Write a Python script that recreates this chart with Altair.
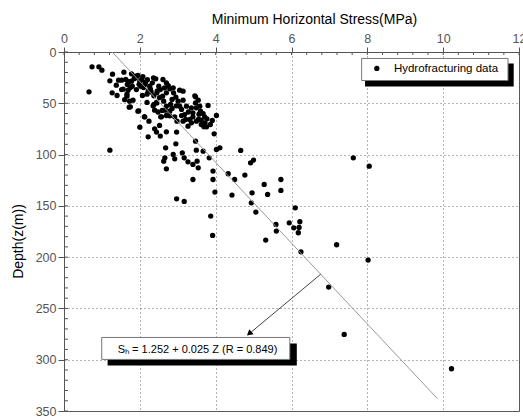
import altair as alt
import pandas as pd

# ---- data ----
stress = [0.74,0.92,1.00,0.66,1.28,1.21,1.21,1.27,1.40,1.38,1.52,1.58,1.63,1.52,1.67,1.78,1.87,1.95,2.00,1.78,
          1.80,1.69,1.66,1.73,1.82,1.72,1.91,2.02,2.13,2.07,2.22,2.26,2.36,2.33,2.42,2.50,2.45,2.54,2.61,2.70,
          2.60,2.63,2.70,2.79,2.75,2.88,2.70,2.39,2.37,2.45,2.59,2.67,2.55,2.52,2.70,2.79,2.81,2.85,2.89,3.01,
          3.05,3.10,3.18,3.21,3.05,3.14,2.92,2.98,3.14,3.27,3.32,3.40,3.36,3.49,3.47,3.58,3.47,3.60,3.67,3.49,
          3.62,3.71,3.77,3.86,4.02,3.91,3.69,3.80,3.96,3.62,3.76,3.36,3.54,3.23,
          1.44,1.56,1.71,1.75,1.66,2.10,2.19,2.28,2.37,2.46,1.75,1.97,2.12,2.35,2.19,1.85,2.05,2.15,2.44,2.96,
          3.14,3.45,2.79,2.57,3.40,3.56,
          1.90,1.98,2.08,2.20,2.30,2.52,2.65,2.85,2.95,3.10,3.28,3.55,1.60,2.48,3.72,
          2.00,2.22,1.95,2.13,2.24,2.39,2.44,2.54,2.70,2.97,2.68,2.95,2.66,2.63,2.70,2.88,2.92,3.12,3.17,3.27,
          3.40,3.54,3.51,3.47,3.49,3.67,3.83,3.93,3.93,4.02,4.11,4.66,4.92,5.00,4.33,4.50,4.77,3.40,3.98,4.43,
          4.96,5.28,5.37,2.97,3.17,3.87,3.92,4.94,5.06,5.32,7.63,8.05,5.72,5.72,6.10,5.59,5.60,5.94,6.22,6.06,
          6.20,6.18,7.19,6.25,8.02,6.98,7.39,10.22]
depth = [14.5,14.5,17.7,38.8,21.6,28.1,95.7,39.8,42.4,32.3,27.5,19.7,26.8,36.6,31.7,21.3,23.6,22.9,28.4,28.4,
         33.3,37.2,43.1,47.9,47.0,53.8,36.6,33.3,31.7,42.4,38.2,33.3,25.2,30.1,26.2,33.3,39.8,36.6,26.8,30.1,
         43.1,47.9,39.8,35.9,32.7,34.9,52.8,56.7,51.2,49.6,57.0,56.7,63.2,71.6,61.9,57.7,51.2,46.3,39.8,47.9,
         52.8,56.0,61.0,65.8,37.2,38.2,63.2,67.4,67.4,72.3,65.8,59.3,54.4,54.4,49.6,52.8,43.7,57.7,60.0,67.4,
         66.4,63.2,65.1,70.7,61.9,66.8,72.9,52.1,79.8,70.7,72.9,69.0,47.0,52.8,
         27.5,36.2,28.8,34.6,41.1,34.6,41.1,36.2,42.7,37.9,53.4,57.3,63.2,52.5,49.2,26.0,27.0,29.5,49.2,52.5,
         47.0,42.7,62.2,63.2,63.2,60.6,
         25.0,31.5,24.0,27.0,39.0,44.5,35.0,55.0,44.0,62.0,58.5,65.5,46.5,58.5,69.0,
         73.3,82.7,57.7,63.2,67.4,74.9,78.1,82.0,77.8,78.1,93.4,89.5,103.2,106.4,113.9,99.9,104.1,98.3,103.2,107.1,
         109.6,112.9,106.4,86.9,95.7,96.7,103.2,116.1,124.3,95.0,93.4,96.0,108.0,105.4,118.7,124.3,120.0,124.3,136.6,139.5,
         137.3,129.1,138.9,143.1,145.7,160.0,178.8,147.0,156.1,183.4,103.2,111.3,124.3,135.0,151.9,168.1,174.6,166.5,165.5,171.4,
         171.0,176.2,187.9,194.8,202.9,229.2,275.3,308.8]

fit_stress = [1.27, 9.85]
fit_depth = [0, 338]

x_major = [0, 2, 4, 6, 8, 10, 12]
y_major = [0, 50, 100, 150, 200, 250, 300, 350]
x_minor = [0, 0.4, 0.8, 1.2, 1.6, 2, 2.4, 2.8, 3.2, 3.6, 4, 4.4, 4.8, 5.2, 5.6, 6, 6.4, 6.8, 7.2, 7.6,
           8, 8.4, 8.8, 9.2, 9.6, 10, 10.4, 10.8, 11.2, 11.6, 12]
y_minor = list(range(0, 351, 10))

legend_label = "Hydrofracturing data"
eq_label = "Sₕ = 1.252 + 0.025 Z (R = 0.849)"

FONT = "Liberation Sans"
XS = alt.Scale(domain=[0, 12], nice=False, zero=False)
YS = alt.Scale(domain=[0, 350], nice=False, zero=False, reverse=True)

def X(field="x", **kw):
    return alt.X(f"{field}:Q", scale=XS, **kw)

def Y(field="y", **kw):
    return alt.Y(f"{field}:Q", scale=YS, **kw)

pts = pd.DataFrame({"x": stress, "y": depth})

xaxis = alt.Axis(orient="top", values=x_major, grid=True, gridDash=[1, 3], gridColor="#666",
                 tickSize=5, tickColor="#555", domainColor="#555", labelColor="#555",
                 labelFont=FONT, labelFontSize=12.5, labelPadding=2, labelFlush=False,
                 title="Minimum Horizontal Stress(MPa)", titleFont=FONT, titleFontSize=14,
                 titleFontWeight="normal", titleColor="black", titleX=250, titleY=-29,
                 titleAlign="center", titleBaseline="alphabetic", titleAnchor="start")
yaxis = alt.Axis(orient="left", values=y_major, grid=True, gridDash=[1, 3], gridColor="#666",
                 tickSize=6, tickColor="#555", domainColor="#555", labelColor="#555",
                 labelFont=FONT, labelFontSize=12.5, labelPadding=2, labelFlush=False,
                 title="Depth(z(m))", titleFont=FONT, titleFontSize=14, titleFontWeight="normal",
                 titleColor="black", titleX=-46, titleY=189, titleAngle=270,
                 titleAlign="center", titleBaseline="middle", titleAnchor="start")

points = alt.Chart(pts).mark_circle(size=28, color="black", opacity=1).encode(
    x=X(axis=xaxis), y=Y(axis=yaxis))

fit = alt.Chart(pd.DataFrame({"x": fit_stress, "y": fit_depth})).mark_line(
    color="#999", strokeWidth=1).encode(x=X(), y=Y())

xt = alt.Chart(pd.DataFrame({"x": x_minor})).mark_rule(color="#555", strokeWidth=1).encode(
    x=X(), y=alt.value(0), y2=alt.value(3))
yt = alt.Chart(pd.DataFrame({"y": y_minor})).mark_rule(color="#555", strokeWidth=1).encode(
    y=Y(), x=alt.value(0), x2=alt.value(4))

# legend box with shadow
leg_shadow = alt.Chart(pd.DataFrame({"x": [7.94], "x2": [11.86], "y": [11.2], "y2": [33.6]})).mark_rect(
    color="black").encode(x=X(), x2="x2:Q", y=Y(), y2="y2:Q")
leg_box = alt.Chart(pd.DataFrame({"x": [7.85], "x2": [11.71], "y": [6.3], "y2": [27.8]})).mark_rect(
    fill="white", stroke="#777", strokeWidth=1).encode(x=X(), x2="x2:Q", y=Y(), y2="y2:Q")
leg_dot = alt.Chart(pd.DataFrame({"x": [8.25], "y": [16.0]})).mark_circle(
    size=28, color="black", opacity=1).encode(x=X(), y=Y())
leg_text = alt.Chart(pd.DataFrame({"x": [8.70], "y": [16.6], "t": [legend_label]})).mark_text(
    font=FONT, fontSize=11.5, align="left", baseline="middle", color="black").encode(
    x=X(), y=Y(), text="t:N")

# equation box with shadow and arrow
eq_shadow = alt.Chart(pd.DataFrame({"x": [1.15], "x2": [6.14], "y": [284.2], "y2": [305.6]})).mark_rect(
    color="black").encode(x=X(), x2="x2:Q", y=Y(), y2="y2:Q")
eq_box = alt.Chart(pd.DataFrame({"x": [0.995], "x2": [5.956], "y": [278.3], "y2": [299.7]})).mark_rect(
    fill="white", stroke="#777", strokeWidth=1).encode(x=X(), x2="x2:Q", y=Y(), y2="y2:Q")
eq_text = alt.Chart(pd.DataFrame({"x": [1.417], "y": [290.6], "t": [eq_label]})).mark_text(
    font=FONT, fontSize=11, align="left", baseline="middle", color="black").encode(
    x=X(), y=Y(), text="t:N")
arrow_line = alt.Chart(pd.DataFrame({"x": [6.77, 4.88], "y": [216.7, 274.8]})).mark_line(
    color="#444", strokeWidth=1).encode(x=X(), y=Y())
arrow_head = alt.Chart(pd.DataFrame({"x": [4.884], "y": [274.6]})).mark_point(
    shape="triangle-up", filled=True, size=45, angle=230, color="black", opacity=1).encode(x=X(), y=Y())

chart = alt.layer(points, fit, xt, yt, leg_shadow, leg_box, leg_dot, leg_text,
                  arrow_line, arrow_head, eq_shadow, eq_box, eq_text).properties(
    width=455, height=359,
    autosize=alt.AutoSizeParams(type="none"),
    padding={"left": 64, "top": 52, "right": 4, "bottom": 6},
    background="white",
).configure_view(stroke="#555", strokeWidth=1)

chart.save("out.html", embed_options={"renderer": "svg", "actions": False})
